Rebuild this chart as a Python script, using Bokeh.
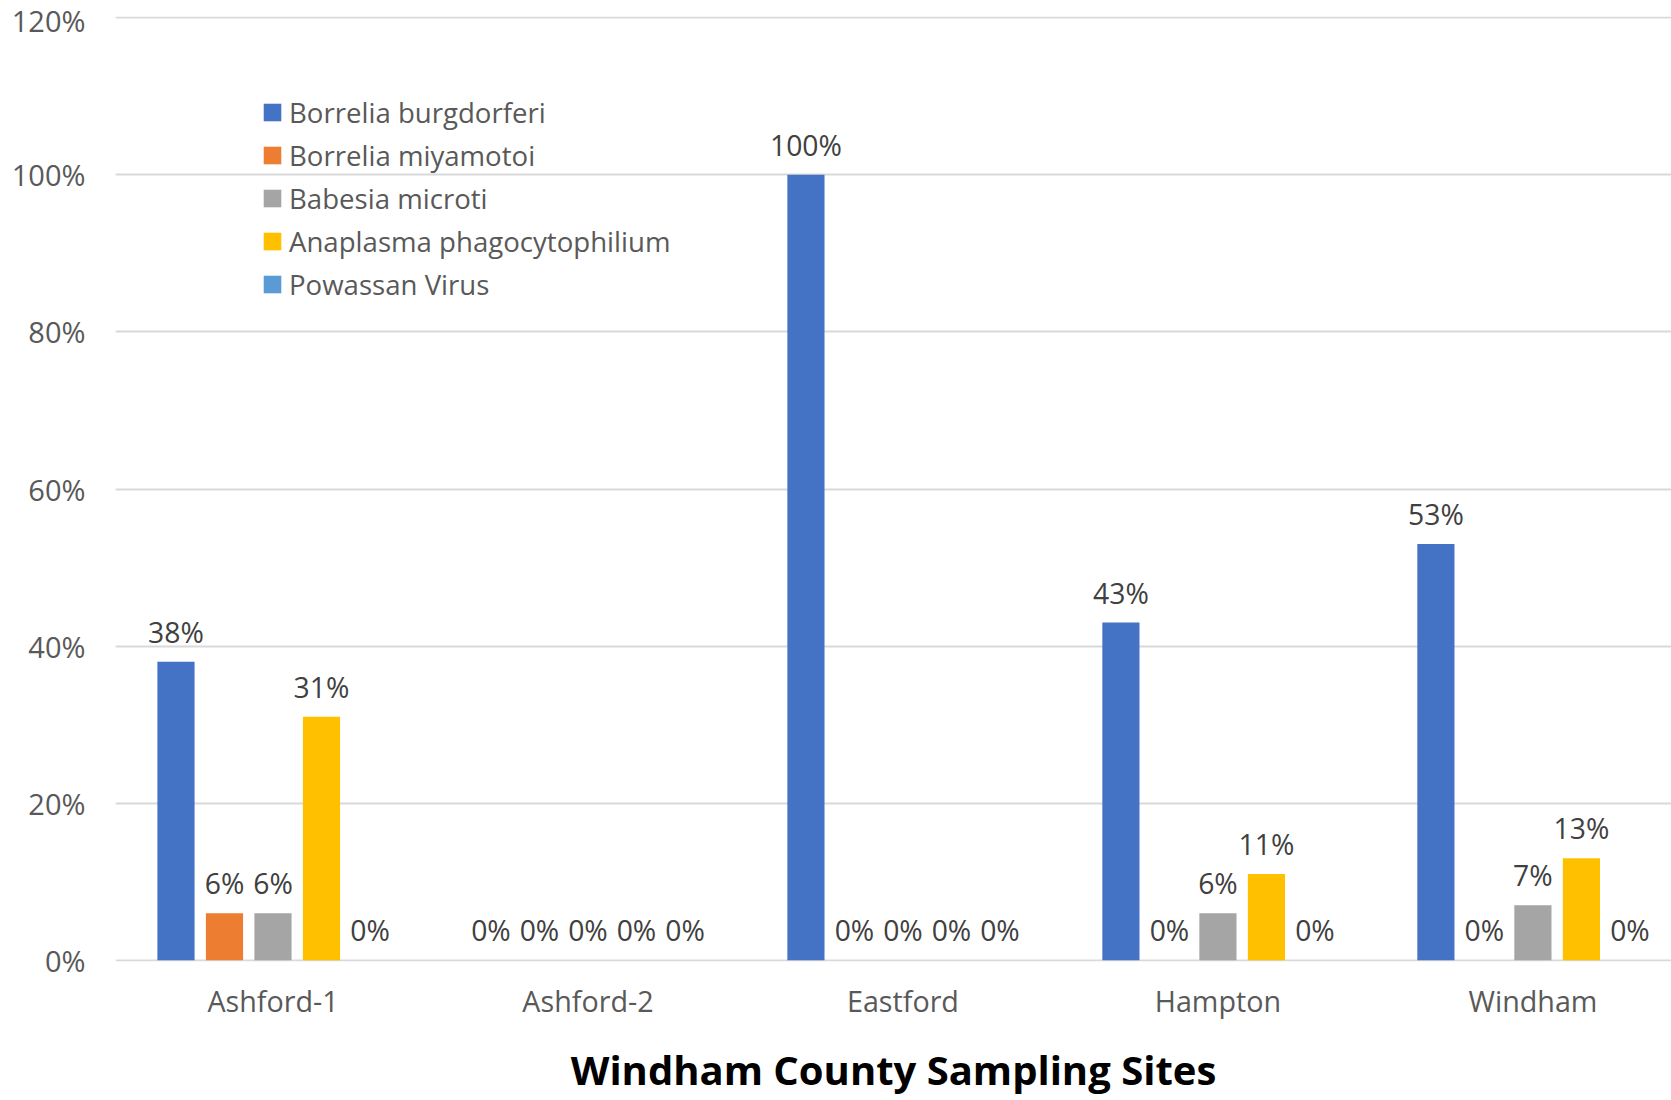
from bokeh.plotting import figure
from bokeh.models import (ColumnDataSource, Range1d, FixedTicker, NumeralTickFormatter,
                          Legend, LegendItem)
from bokeh.transform import dodge
from bokeh.core.properties import value
from bokeh.embed import file_html
from bokeh.resources import INLINE

# ---------------- data ----------------
sites = ["Ashford-1", "Ashford-2", "Eastford", "Hampton", "Windham"]
series_names = ["Borrelia burgdorferi", "Borrelia miyamotoi", "Babesia microti",
                "Anaplasma phagocytophilium", "Powassan Virus"]
borrelia_burgdorferi = [0.38, 0.00, 1.00, 0.43, 0.53]
borrelia_miyamotoi = [0.06, 0.00, 0.00, 0.00, 0.00]
babesia_microti = [0.06, 0.00, 0.00, 0.06, 0.07]
anaplasma_phagocytophilium = [0.31, 0.00, 0.00, 0.11, 0.13]
powassan_virus = [0.00, 0.00, 0.00, 0.00, 0.00]
y_ticks = [0.0, 0.2, 0.4, 0.6, 0.8, 1.0, 1.2]
x_title = "Windham County Sampling Sites"

series_values = [borrelia_burgdorferi, borrelia_miyamotoi, babesia_microti,
                 anaplasma_phagocytophilium, powassan_virus]
colors = ["#4472C4", "#ED7D31", "#A5A5A5", "#FFC000", "#5B9BD5"]

FONT = "Open Sans"
positions = [i + 0.5 for i in range(len(sites))]
step = 0.154
bar_w = 0.118

p = figure(width=1671, height=1100,
           x_range=Range1d(0, 4.94), y_range=Range1d(-0.0015, 1.2015),
           output_backend="svg", toolbar_location=None,
           min_border_left=115, min_border_right=0,
           min_border_top=16, min_border_bottom=139)
p.outline_line_color = None
p.background_fill_color = "white"
p.border_fill_color = "white"

# gridlines (drawn first, under the bars)
p.xgrid.visible = False
p.ygrid.ticker = FixedTicker(ticks=y_ticks)
p.ygrid.grid_line_color = "#D9D9D9"
p.ygrid.grid_line_width = 1.8

items = []
for k, (name, vals, col) in enumerate(zip(series_names, series_values, colors)):
    src = ColumnDataSource(dict(x=positions, val=vals,
                                label=[f"{round(v * 100)}%" for v in vals]))
    off = (k - 2) * step
    r = p.vbar(x=dodge("x", off), top="val", width=bar_w, bottom=0, source=src,
               fill_color=col, line_color=None)
    p.text(x=dodge("x", off), y="val", text="label", source=src,
           text_align="center", text_baseline="middle", y_offset=-30,
           text_font=value(FONT), text_font_size="28.3px", text_color="#404040")
    items.append(LegendItem(label=name, renderers=[r]))

legend = Legend(items=items, location=(146, 658))
legend.label_text_font = FONT
legend.label_text_font_size = "27.6px"
legend.label_text_color = "#595959"
legend.glyph_width = 22
legend.glyph_height = 22
legend.label_standoff = 6
legend.spacing = 5
legend.padding = 0
legend.margin = 0
legend.border_line_color = None
legend.background_fill_alpha = 0
p.add_layout(legend)

# axes
p.yaxis.ticker = FixedTicker(ticks=y_ticks)
p.yaxis.formatter = NumeralTickFormatter(format="0%")
p.yaxis.axis_line_color = None
p.yaxis.major_tick_line_color = None
p.yaxis.minor_tick_line_color = None
p.yaxis.major_label_standoff = 24
p.yaxis.major_label_text_font = FONT
p.yaxis.major_label_text_font_size = "29px"
p.yaxis.major_label_text_color = "#595959"

p.xaxis.ticker = FixedTicker(ticks=positions)
p.xaxis.major_label_overrides = {pos: s for pos, s in zip(positions, sites)}
p.xaxis.axis_line_color = None
p.xaxis.major_tick_line_color = None
p.xaxis.minor_tick_line_color = None
p.xaxis.major_label_standoff = 13
p.xaxis.major_label_text_font = FONT
p.xaxis.major_label_text_font_size = "28.7px"
p.xaxis.major_label_text_color = "#595959"
p.xaxis.axis_label = x_title
p.xaxis.axis_label_standoff = 19
p.xaxis.axis_label_text_font = FONT
p.xaxis.axis_label_text_font_style = "bold"
p.xaxis.axis_label_text_font_size = "40px"
p.xaxis.axis_label_text_color = "black"

open("out.html", "w").write(file_html(p, INLINE))
